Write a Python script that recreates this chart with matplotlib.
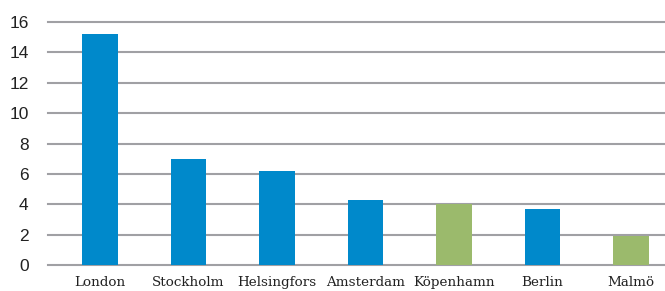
import matplotlib
matplotlib.use("Agg")
import matplotlib.pyplot as plt

categories = ["London", "Stockholm", "Helsingfors", "Amsterdam", "Köpenhamn", "Berlin", "Malmö"]
values = [15.2, 7.0, 6.2, 4.3, 4.0, 3.7, 1.9]
groups = ["blue", "blue", "blue", "blue", "green", "blue", "green"]
yticks = [0, 2, 4, 6, 8, 10, 12, 14, 16]

palette = {"blue": "#0089CB", "green": "#9BBA6C"}

fig = plt.figure(figsize=(6.65, 2.91), dpi=100)
ax = fig.add_axes([48/665, 26/291, 1 - 48/665, (265-22)/291])

x = list(range(len(categories)))
ax.bar(x, values, width=0.4, color=[palette[g] for g in groups], zorder=3)

ax.set_xlim(-0.588, 6.384)
ax.set_ylim(0, 16)
ax.set_yticks(yticks)
ax.set_yticklabels([str(t) for t in yticks], fontfamily="Liberation Sans", fontsize=12.5, color="#222222")
ax.set_xticks(x)
ax.set_xticklabels(categories, fontfamily="DejaVu Serif", fontsize=9.7, color="#222222")
ax.tick_params(axis="y", length=0, pad=14)
ax.tick_params(axis="x", length=0, pad=8)
ax.grid(axis="y", color="#A0A0A4", linewidth=1.5, zorder=0)
for line in ax.get_ygridlines():
    line.set_clip_on(False)
for s in ax.spines.values():
    s.set_visible(False)

fig.savefig("out.png", dpi=100)
